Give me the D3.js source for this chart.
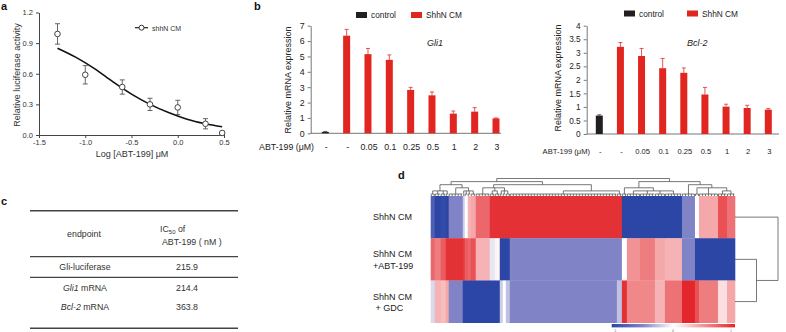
<!DOCTYPE html>
<html><head><meta charset="utf-8">
<script src="https://cdn.jsdelivr.net/npm/d3@7"></script>
<style>
body{margin:0;background:#fff;}
svg{display:block;font-family:Arial,"Liberation Sans",Helvetica,sans-serif;}
</style></head><body>
<svg id="fig" width="786" height="332"></svg>
<script>
// ---------- Panel a data ----------
const logConc = [-1.3, -1.0, -0.6, -0.3, 0.0, 0.3, 0.48];
const lucMean = [0.99, 0.59, 0.47, 0.30, 0.27, 0.11, 0.02];
const lucErr  = [0.10, 0.09, 0.07, 0.06, 0.07, 0.05, 0];
const fitX = [-1.3, -1.1, -0.9, -0.7, -0.5, -0.3, -0.1, 0.1, 0.3, 0.48];
const fitY = [0.85, 0.76, 0.65, 0.52, 0.40, 0.30, 0.22, 0.155, 0.11, 0.08];
const aXTicks = [-1.5, -1.0, -0.5, 0.0, 0.5];
const aYTicks = [0, 0.3, 0.6, 0.9, 1.2];

// ---------- Panel b data ----------
const abtLabels = ["-", "-", "0.05", "0.1", "0.25", "0.5", "1", "2", "3"];
const barGroup  = ["control", "ShhN CM", "ShhN CM", "ShhN CM", "ShhN CM", "ShhN CM", "ShhN CM", "ShhN CM", "ShhN CM"];
const legendGroups = ["control", "ShhN CM"];
const gli1Mean = [0.09, 6.35, 5.15, 4.78, 2.82, 2.47, 1.28, 1.41, 0.97];
const gli1Err  = [0.03, 0.41, 0.37, 0.32, 0.17, 0.22, 0.17, 0.26, 0.03];
const gli1Ticks = [0, 1, 2, 3, 4, 5, 6, 7];
const bcl2Mean = [0.68, 3.22, 2.88, 2.43, 2.26, 1.46, 1.01, 0.96, 0.90];
const bcl2Err  = [0.03, 0.16, 0.28, 0.36, 0.18, 0.26, 0.09, 0.10, 0.04];
const bcl2Ticks = [0, 0.5, 1, 1.5, 2, 2.5, 3, 3.5, 4];

// ---------- Panel c data ----------
const endpointItalic = ["", "Gli1", "Bcl-2"];
const endpointPlain  = ["Gli-luciferase", " mRNA", " mRNA"];
const ic50nM = ["215.9", "214.4", "363.8"];

// ---------- Panel d data ----------
const rowLabels = [["ShhN CM"], ["ShhN CM", "+ABT-199"], ["ShhN CM", " + GDC"]];
const blockGenes = [4, 6, 5, 3, 14, 2, 3, 3, 5, 14, 5, 5, 3, 3, 4, 107, 5, 5, 13, 15, 10, 17, 13, 4, 19, 9, 8];
const rowShhN   = [-0.8, -1, -0.95, -1, -0.5, -0.2, 0, 0.35, 0.4, 0.7, 0.95, 0.95, 0.95, 0.95, 0.95, 0.95, 0.95, -1, -1, -1, -1, -1, -0.5, 0, 0.4, 0.8, 0.65];
const rowABT    = [0.7, 0.6, 0.75, 0.95, 0.95, 0.9, 0.75, 0.7, 0.8, 0.35, -0.1, 0.05, -1, -1, -1, -0.5, -0.5, 0, 0.5, 0.6, 0.4, 0.35, -0.5, -1, -1, -1, -1];
const rowGDC    = [-0.15, 0.35, 0.3, 0.4, -0.5, -1, -1, -1, -1, -1, -1, -1, -0.2, 0, -0.25, -0.5, -0.25, 0.95, 0.55, 0.55, 0.35, 0.65, 1, 0.8, 0.6, 0.15, 0.4];
const colTree = [
  [
    [[0, 1, 2, 3], [4, [5, 6, 7, 8]]],
    [[9, [10, 11], [12, 13, 14]], [15, 16]]
  ],
  [
    [17, [18, 19, 20, 21]],
    [22, [23, 24, [25, 26]]]
  ]
];
const rowTree = [0, [1, 2]];
const colorStops = [-1, -0.5, 0, 1];
const colorRange = ["#2c46a6", "#8083c6", "#ffffff", "#e3262b"];

const svg = d3.select("#fig");

// ================= Panel letters =================
const letters = [["a", 1, 10], ["b", 254, 10], ["c", 1, 205], ["d", 398, 179]];
svg.selectAll("text.letter").data(letters).join("text").attr("class", "letter")
  .attr("x", d => d[1]).attr("y", d => d[2]).text(d => d[0])
  .attr("font-size", 11).attr("font-weight", "bold").attr("fill", "#111");

// ================= Panel a =================
const ax = d3.scaleLinear().domain([-1.5, 0.5]).range([39, 224]);
const ay = d3.scaleLinear().domain([0, 1.2]).range([135, 12.5]);
const ga = svg.append("g");
const fmt1 = d => d3.format(".1f")(d).replace("\u2212", "-");
const axA = ga.append("g").attr("transform", "translate(0,135)")
  .call(d3.axisBottom(ax).tickValues(aXTicks).tickSize(3).tickPadding(2).tickSizeOuter(0).tickFormat(fmt1));
const ayA = ga.append("g").attr("transform", "translate(39,0)")
  .call(d3.axisLeft(ay).tickValues(aYTicks).tickSize(3).tickSizeOuter(0).tickFormat(fmt1));
[axA, ayA].forEach(g => {
  g.selectAll("text").attr("font-size", 7.5).attr("fill", "#333").attr("font-family", "Arial,'Liberation Sans',sans-serif");
  g.selectAll("line,path").attr("stroke", "#444");
});
ga.append("path").datum(fitX.map((x, i) => [x, fitY[i]]))
  .attr("d", d3.line().x(d => ax(d[0])).y(d => ay(d[1])).curve(d3.curveMonotoneX))
  .attr("fill", "none").attr("stroke", "#111").attr("stroke-width", 1.6);
const pts = logConc.map((x, i) => ({x, m: lucMean[i], e: lucErr[i]}));
const eb = ga.selectAll("g.eb").data(pts.filter(p => p.e > 0)).join("g").attr("class", "eb")
  .attr("stroke", "#555").attr("stroke-width", 0.9);
eb.append("line").attr("x1", d => ax(d.x)).attr("x2", d => ax(d.x)).attr("y1", d => ay(d.m - d.e)).attr("y2", d => ay(d.m + d.e));
eb.append("line").attr("x1", d => ax(d.x) - 2.5).attr("x2", d => ax(d.x) + 2.5).attr("y1", d => ay(d.m - d.e)).attr("y2", d => ay(d.m - d.e));
eb.append("line").attr("x1", d => ax(d.x) - 2.5).attr("x2", d => ax(d.x) + 2.5).attr("y1", d => ay(d.m + d.e)).attr("y2", d => ay(d.m + d.e));
ga.selectAll("circle.pt").data(pts).join("circle").attr("class", "pt")
  .attr("cx", d => ax(d.x)).attr("cy", d => ay(d.m)).attr("r", 2.8)
  .attr("fill", "#fff").attr("stroke", "#444").attr("stroke-width", 1);
// legend
ga.append("line").attr("x1", 135).attr("x2", 148).attr("y1", 27.7).attr("y2", 27.7).attr("stroke", "#222").attr("stroke-width", 1.2);
ga.append("circle").attr("cx", 141.5).attr("cy", 27.7).attr("r", 2.5).attr("fill", "#fff").attr("stroke", "#333");
ga.append("text").attr("x", 152).attr("y", 30.5).text("shhN CM").attr("font-size", 7).attr("fill", "#333");
ga.append("text").attr("transform", "translate(20,75) rotate(-90)").attr("text-anchor", "middle")
  .text("Relative luciferase activity").attr("font-size", 9).attr("fill", "#333");
ga.append("text").attr("x", 132).attr("y", 156.5).attr("text-anchor", "middle")
  .text("Log [ABT-199] \u03bcM").attr("font-size", 9).attr("fill", "#333");

// ================= Panel b =================
const groupColor = {"control": "#231f20", "ShhN CM": "#e0261f"};
function barPanel(o) {
  const g = svg.append("g");
  const x = d3.scalePoint().domain(d3.range(o.mean.length)).range(o.xr);
  const y = d3.scaleLinear().domain(o.ydom).range(o.yr);
  const yAx = g.append("g").attr("transform", `translate(${o.ax0},0)`)
    .call(d3.axisLeft(y).tickValues(o.ticks).tickSize(3).tickSizeOuter(0).tickFormat(d => String(d)));
  yAx.selectAll("text").attr("font-size", o.tickFs).attr("fill", "#222");
  yAx.selectAll("line,path").attr("stroke", "#777");
  g.append("line").attr("x1", o.ax0).attr("x2", o.ax1).attr("y1", y(0)).attr("y2", y(0)).attr("stroke", "#777");
  const data = o.mean.map((m, i) => ({i, m, e: o.err[i], g: barGroup[i]}));
  const bw = 7;
  g.selectAll("line.err").data(data).join("line").attr("class", "err")
    .attr("x1", d => x(d.i)).attr("x2", d => x(d.i)).attr("y1", d => y(d.m)).attr("y2", d => y(d.m + d.e))
    .attr("stroke", d => d.g === "control" ? "#555" : "#d44").attr("stroke-width", 0.9);
  g.selectAll("line.cap").data(data).join("line").attr("class", "cap")
    .attr("x1", d => x(d.i) - 2).attr("x2", d => x(d.i) + 2).attr("y1", d => y(d.m + d.e)).attr("y2", d => y(d.m + d.e))
    .attr("stroke", d => d.g === "control" ? "#555" : "#d44").attr("stroke-width", 0.9);
  g.selectAll("rect.bar").data(data).join("rect").attr("class", "bar")
    .attr("x", d => x(d.i) - bw / 2).attr("width", bw)
    .attr("y", d => y(d.m)).attr("height", d => y(0) - y(d.m))
    .attr("fill", d => groupColor[d.g]);
  g.selectAll("text.cat").data(abtLabels).join("text").attr("class", "cat")
    .attr("x", (d, i) => x(i) + 1).attr("y", o.catY).attr("text-anchor", "middle")
    .text(d => d).attr("font-size", o.catFs).attr("fill", "#222");
  g.append("text").attr("x", o.abtX).attr("y", o.catY).attr("text-anchor", "end")
    .text("ABT-199 (\u03bcM)").attr("font-size", o.catFs).attr("fill", "#222");
  g.append("text").attr("transform", `translate(${o.ylabX},${o.ylabY}) rotate(-90)`).attr("text-anchor", "middle")
    .text("Relative mRNA expression").attr("font-size", 9).attr("fill", "#222");
  g.append("text").attr("x", o.geneX).attr("y", 46).text(o.gene)
    .attr("font-size", 9).attr("font-style", "italic").attr("fill", "#222");
  // legend
  legendGroups.forEach((lg, k) => {
    g.append("rect").attr("x", o.legX[k]).attr("y", o.legY - 6).attr("width", 11).attr("height", 6).attr("fill", groupColor[lg]);
    g.append("text").attr("x", o.legX[k] + 15).attr("y", o.legY).text(lg).attr("font-size", 8.3).attr("fill", "#222");
  });
}
barPanel({mean: gli1Mean, err: gli1Err, ydom: [0, 7], yr: [133.3, 25.7], ticks: gli1Ticks,
  xr: [325.3, 496], ax0: 310.7, ax1: 501, tickFs: 8.8, catFs: 8.8, catY: 150, abtX: 314,
  ylabX: 291, ylabY: 80, gene: "Gli1", geneX: 427, legX: [356, 411], legY: 18});
barPanel({mean: bcl2Mean, err: bcl2Err, ydom: [0, 4], yr: [134, 25.7], ticks: bcl2Ticks,
  xr: [599.3, 768.3], ax0: 586.7, ax1: 779, tickFs: 8.3, catFs: 7.6, catY: 153.5, abtX: 590,
  ylabX: 561, ylabY: 78, gene: "Bcl-2", geneX: 687, legX: [624, 687], legY: 16.5});

// ================= Panel c =================
const gc = svg.append("g").attr("fill", "#333").attr("font-size", 8.8);
const rules = [[210.7, 1.4], [256.7, 1.2], [277.3, 1.2], [328.3, 1.4]];
gc.selectAll("line").data(rules).join("line").attr("x1", 30).attr("x2", 238)
  .attr("y1", d => d[0]).attr("y2", d => d[0]).attr("stroke", "#444").attr("stroke-width", d => d[1]);
gc.append("text").attr("x", 84).attr("y", 237).attr("text-anchor", "middle").text("endpoint");
const ich = gc.append("text").attr("x", 160).attr("y", 232);
ich.append("tspan").text("IC");
ich.append("tspan").text("50").attr("font-size", 6).attr("dy", 2);
ich.append("tspan").text(" of").attr("dy", -2);
gc.append("text").attr("x", 162).attr("y", 244.5).text("ABT-199 ( nM )");
const rowYs = [270.3, 291.3, 309.7];
endpointPlain.forEach((p, i) => {
  const t = gc.append("text").attr("x", 85).attr("y", rowYs[i]).attr("text-anchor", "middle");
  if (endpointItalic[i]) t.append("tspan").text(endpointItalic[i]).attr("font-style", "italic");
  t.append("tspan").text(p);
  gc.append("text").attr("x", 187).attr("y", rowYs[i]).attr("text-anchor", "middle").text(ic50nM[i]);
});

// ================= Panel d =================
const gd = svg.append("g");
const totalGenes = d3.sum(blockGenes);
const hx = d3.scaleLinear().domain([0, totalGenes]).range([430.7, 735]);
const hy = d3.scaleBand().domain([0, 1, 2]).range([196, 322.7]);
const color = d3.scaleLinear().domain(colorStops).range(colorRange).interpolate(d3.interpolateRgb).clamp(true);
const starts = blockGenes.map((n, i) => d3.sum(blockGenes.slice(0, i)));
const rows = [rowShhN, rowABT, rowGDC];
const cells = [];
rows.forEach((vals, r) => vals.forEach((v, b) => cells.push({r, b, v})));
gd.selectAll("rect.cell").data(cells).join("rect").attr("class", "cell")
  .attr("x", d => hx(starts[d.b])).attr("width", d => hx(starts[d.b] + blockGenes[d.b]) - hx(starts[d.b]) + 0.3)
  .attr("y", d => hy(d.r)).attr("height", hy.bandwidth() + 0.3)
  .attr("fill", d => color(d.v));
// row labels
rowLabels.forEach((lines, r) => {
  const cy = hy(r) + hy.bandwidth() / 2;
  lines.forEach((l, k) => {
    gd.append("text").attr("x", 373).attr("y", cy + 3.2 + (k - (lines.length - 1) / 2) * 11.2 + (lines.length > 1 ? 0.5 : 0))
      .text(l).attr("font-size", 9).attr("fill", "#222").attr("xml:space", "preserve");
  });
});
// column dendrogram
const dy = d3.scaleLinear().domain([0, 5]).range([194, 178.5]);
const dend = gd.append("g").attr("stroke", "#555").attr("stroke-width", 0.8).attr("fill", "none");
function lvl(n) { return Array.isArray(n) ? 1 + d3.max(n, lvl) : 0; }
function drawCol(n) {
  if (!Array.isArray(n)) {
    const s = starts[n], e = s + blockGenes[n];
    const cx = hx((s + e) / 2);
    if (blockGenes[n] >= 3) {
      dend.append("line").attr("x1", hx(s + 0.5)).attr("x2", hx(e - 0.5)).attr("y1", dy(0)).attr("y2", dy(0));
      for (let k = s + 0.5; k < e; k += 3) dend.append("line").attr("x1", hx(k)).attr("x2", hx(k)).attr("y1", dy(0)).attr("y2", 196);
    } else {
      dend.append("line").attr("x1", cx).attr("x2", cx).attr("y1", dy(0)).attr("y2", 196);
    }
    return {x: cx, y: dy(0)};
  }
  const kids = n.map(drawCol);
  const y = dy(lvl(n));
  const xs = kids.map(k => k.x);
  dend.append("line").attr("x1", d3.min(xs)).attr("x2", d3.max(xs)).attr("y1", y).attr("y2", y);
  kids.forEach(k => dend.append("line").attr("x1", k.x).attr("x2", k.x).attr("y1", k.y).attr("y2", y));
  return {x: (d3.min(xs) + d3.max(xs)) / 2, y};
}
drawCol(colTree);
// row dendrogram
const rdx = d3.scaleLinear().domain([0, 2]).range([735, 778]);
const rdend = gd.append("g").attr("stroke", "#555").attr("stroke-width", 0.8).attr("fill", "none");
function drawRow(n) {
  if (!Array.isArray(n)) return {x: rdx(0), y: hy(n) + hy.bandwidth() / 2};
  const kids = n.map(drawRow);
  const x = rdx(lvl(n));
  const ys = kids.map(k => k.y);
  rdend.append("line").attr("x1", x).attr("x2", x).attr("y1", d3.min(ys)).attr("y2", d3.max(ys));
  kids.forEach(k => rdend.append("line").attr("x1", k.x).attr("x2", x).attr("y1", k.y).attr("y2", k.y));
  return {x, y: (d3.min(ys) + d3.max(ys)) / 2};
}
drawRow(rowTree);
// color bar
const defs = svg.append("defs");
const grad = defs.append("linearGradient").attr("id", "cbar");
d3.range(0, 1.0001, 0.05).forEach(t => grad.append("stop").attr("offset", t).attr("stop-color", color(-1 + 2 * t)));
gd.append("rect").attr("x", 611.7).attr("y", 324).attr("width", 123.3).attr("height", 3.4).attr("fill", "url(#cbar)");
const cbx = d3.scaleLinear().domain([-1, 1]).range([615, 731]);
gd.selectAll("text.cb").data(["-1", "0", "1"]).join("text").attr("class", "cb")
  .attr("x", (d, i) => cbx(-1 + i)).attr("y", 331.5).attr("text-anchor", "middle")
  .text(d => d).attr("font-size", 3.5).attr("fill", "#777");
</script>
</body></html>
